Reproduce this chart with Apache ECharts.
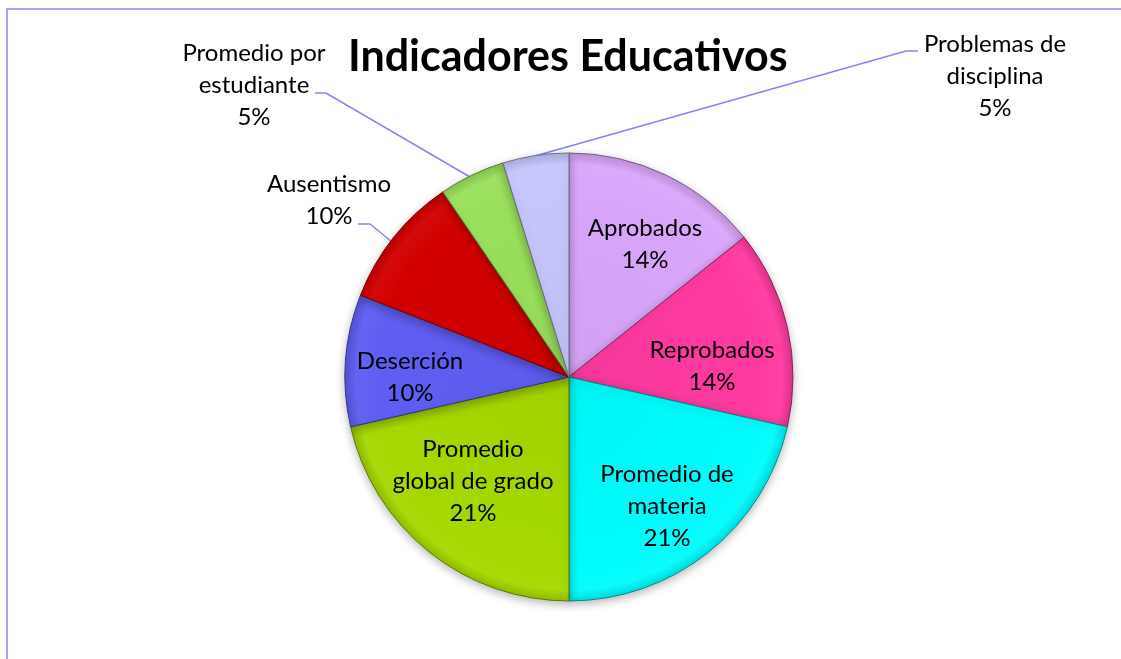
<!DOCTYPE html>
<html>
<head>
<meta charset="utf-8">
<script src="https://cdn.jsdelivr.net/npm/echarts@6/dist/echarts.min.js"></script>
<style>
  html, body { margin: 0; padding: 0; background: #ffffff; overflow: hidden; }
  #frame { position: absolute; left: 6px; top: 8px; width: 1200px; height: 700px;
           border-left: 2px solid #a4a4f6; border-top: 2px solid #a4a4f6; }
  #chart { position: absolute; left: 0; top: 0; width: 1121px; height: 659px; }
</style>
</head>
<body>
<div id="frame"></div>
<div id="chart"></div>
<script>
// ---- data ----
const titleText = 'Indicadores Educativos';
const categories = [
  'Aprobados',
  'Reprobados',
  'Promedio de materia',
  'Promedio global de grado',
  'Deserción',
  'Ausentismo',
  'Promedio por estudiante',
  'Problemas de disciplina'
];
const values = [3, 3, 4.5, 4.5, 2, 2, 1, 1];

// ---- styles ----
const colors = ['#d9a6fa', '#ff3aa0', '#00fcfc', '#a6d800', '#5e5ef2', '#d20000', '#9ae05c', '#c6c6fd'];
const wrapped = {
  'Promedio de materia': 'Promedio de\nmateria',
  'Promedio global de grado': 'Promedio\nglobal de grado',
  'Promedio por estudiante': 'Promedio por\nestudiante',
  'Problemas de disciplina': 'Problemas de\ndisciplina'
};
const outsideSet = new Set(['Ausentismo', 'Promedio por estudiante', 'Problemas de disciplina']);
// label anchor (text block center) and leader line (for outside labels)
const labelPlace = [
  { x: 645, y: 244 },
  { x: 712, y: 366 },
  { x: 667, y: 506 },
  { x: 473, y: 481 },
  { x: 410, y: 377 },
  { x: 329, y: 200, line: [[392, 242], [370, 224], [358, 224]] },
  { x: 254, y: 85,  line: [[470, 177], [326, 93], [315, 93]] },
  { x: 995, y: 76,  line: [[535, 156], [906, 51], [918, 51]] }
];
const CX = 569, CY = 377, R = 224;

function shade(hex, f) {
  const n = parseInt(hex.slice(1), 16);
  let r = (n >> 16) & 255, g = (n >> 8) & 255, b = n & 255;
  if (f < 0) { r = Math.round(r * (1 + f)); g = Math.round(g * (1 + f)); b = Math.round(b * (1 + f)); }
  else { r = Math.round(r + (255 - r) * f); g = Math.round(g + (255 - g) * f); b = Math.round(b + (255 - b) * f); }
  return 'rgb(' + r + ',' + g + ',' + b + ')';
}

const seriesData = categories.map((name, i) => {
  const base = colors[i];
  const item = {
    name: name,
    value: values[i],
    itemStyle: {
      color: {
        type: 'radial', x: CX, y: CY, r: R, global: true,
        colorStops: [
          { offset: 0, color: shade(base, -0.03) },
          { offset: 0.85, color: base },
          { offset: 0.95, color: shade(base, 0.04) },
          { offset: 1, color: shade(base, -0.12) }
        ]
      },
      borderColor: shade(base, -0.45),
      borderWidth: 1
    }
  };
  if (outsideSet.has(name)) {
    item.label = { position: 'outside' };
    item.labelLine = { show: true };
  }
  return item;
});

const chart = echarts.init(document.getElementById('chart'), null, { renderer: 'canvas' });
chart.setOption({
  backgroundColor: 'transparent',
  animation: false,
  title: {
    text: titleText,
    left: 348,
    top: 36,
    padding: 0,
    textStyle: { fontFamily: 'Lato', fontWeight: 'bold', fontSize: 43, color: '#000000' }
  },
  series: [{
    type: 'pie',
    center: [CX, CY],
    radius: R,
    startAngle: 90,
    clockwise: true,
    avoidLabelOverlap: false,
    itemStyle: {
      shadowBlur: 10,
      shadowColor: 'rgba(0,0,0,0.28)',
      shadowOffsetY: 3
    },
    label: {
      show: true,
      position: 'inside',
      fontFamily: 'Lato',
      fontSize: 24,
      lineHeight: 32,
      color: '#000000',
      align: 'center',
      formatter: p => (wrapped[p.name] || p.name) + '\n' + Math.round(p.percent) + '%'
    },
    labelLine: {
      show: false,
      lineStyle: { color: '#8484f8', width: 1.5 }
    },
    labelLayout: function (params) {
      const pl = labelPlace[params.dataIndex];
      const res = { x: pl.x, y: pl.y, align: 'center', verticalAlign: 'middle' };
      if (pl.line) res.labelLinePoints = pl.line;
      return res;
    },
    data: seriesData
  }]
});
</script>
</body>
</html>
